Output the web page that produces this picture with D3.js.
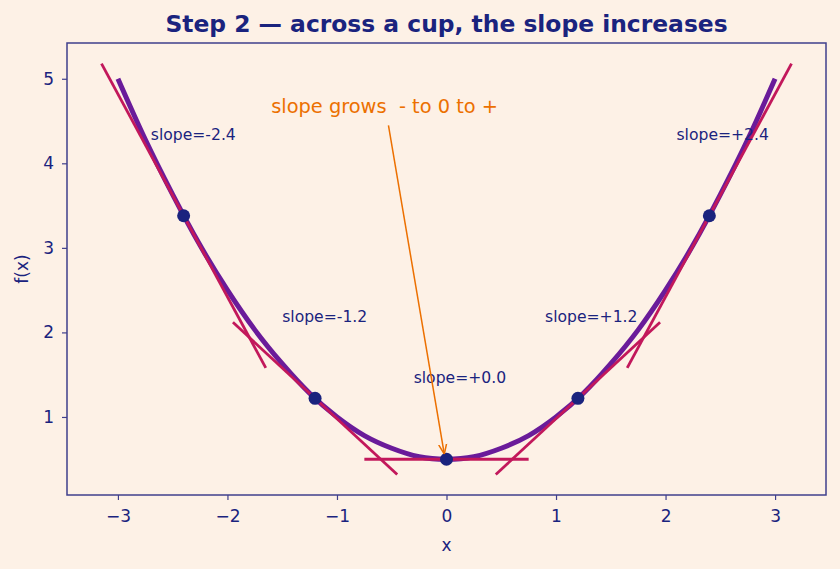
<!DOCTYPE html>
<html>
<head>
<meta charset="utf-8">
<script src="https://cdn.jsdelivr.net/npm/d3@7"></script>
<style>
  html, body { margin: 0; padding: 0; background: #fdf1e6; }
  svg { display: block; font-family: "DejaVu Sans", sans-serif; }
</style>
</head>
<body>
<div id="chart"></div>
<script>
// curve f(x)
const curveX = [-3, -2.75, -2.5, -2.25, -2, -1.75, -1.5, -1.25, -1, -0.75, -0.5, -0.25, 0,
                0.25, 0.5, 0.75, 1, 1.25, 1.5, 1.75, 2, 2.25, 2.5, 2.75, 3];
const curveY = [5, 4.28, 3.63, 3.03, 2.5, 2.03, 1.63, 1.28, 1, 0.78, 0.63, 0.53, 0.5,
                0.53, 0.63, 0.78, 1, 1.28, 1.63, 2.03, 2.5, 3.03, 3.63, 4.28, 5];
// tangent points and their slopes
const pointX = [-2.4, -1.2, 0, 1.2, 2.4];
const pointY = [3.38, 1.22, 0.5, 1.22, 3.38];
const slopes = [-2.4, -1.2, 0, 1.2, 2.4];
const slopeLabels = ["slope=-2.4", "slope=-1.2", "slope=+0.0", "slope=+1.2", "slope=+2.4"];
const halfLen = 0.75;
const xTicks = [-3, -2, -1, 0, 1, 2, 3];
const yTicks = [1, 2, 3, 4, 5];

const width = 840, height = 569;
const margin = { top: 43, right: 14, bottom: 74, left: 67 };
const ink = "#1a237e";
const spine = "#3f3f8c";

const svg = d3.select("#chart").append("svg")
    .attr("width", width)
    .attr("height", height);

svg.append("rect").attr("width", width).attr("height", height).attr("fill", "#fdf1e6");

const x = d3.scaleLinear().domain([-3.465, 3.465]).range([margin.left, width - margin.right]);
const y = d3.scaleLinear().domain([0.077, 5.423]).range([height - margin.bottom, margin.top]);

// curve
const line = d3.line().x(d => x(d[0])).y(d => y(d[1])).curve(d3.curveNatural);
svg.append("path")
    .datum(curveX.map((v, i) => [v, curveY[i]]))
    .attr("d", line)
    .attr("fill", "none")
    .attr("stroke", "#6a1b9a")
    .attr("stroke-width", 5);

// tangent segments
svg.selectAll("line.tan")
    .data(pointX)
    .join("line")
    .attr("class", "tan")
    .attr("x1", (d, i) => x(d - halfLen))
    .attr("y1", (d, i) => y(pointY[i] - slopes[i] * halfLen))
    .attr("x2", (d, i) => x(d + halfLen))
    .attr("y2", (d, i) => y(pointY[i] + slopes[i] * halfLen))
    .attr("stroke", "#c2185b")
    .attr("stroke-width", 2.8);

svg.selectAll("circle.pt")
    .data(pointX)
    .join("circle")
    .attr("class", "pt")
    .attr("cx", d => x(d))
    .attr("cy", (d, i) => y(pointY[i]))
    .attr("r", 6.5)
    .attr("fill", ink);

svg.selectAll("text.slab")
    .data(pointX)
    .join("text")
    .attr("class", "slab")
    .attr("x", d => x(d - 0.3))
    .attr("y", (d, i) => y(pointY[i] + 0.96) + 5)
    .attr("fill", ink)
    .attr("font-size", "15.6px")
    .text((d, i) => slopeLabels[i]);

// annotation arrow
const orange = "#ec7000";
svg.append("defs").append("marker")
    .attr("id", "head")
    .attr("viewBox", "0 0 10 10")
    .attr("refX", 10).attr("refY", 5)
    .attr("markerWidth", 10).attr("markerHeight", 10)
    .attr("markerUnits", "userSpaceOnUse")
    .attr("orient", "auto")
    .append("path")
    .attr("d", "M0,1 L10,5 L0,9")
    .attr("fill", "none")
    .attr("stroke", orange)
    .attr("stroke-width", 1.5);

svg.append("line")
    .attr("x1", x(-0.53)).attr("y1", y(4.45))
    .attr("x2", x(-0.02)).attr("y2", y(0.56))
    .attr("stroke", orange)
    .attr("stroke-width", 1.5)
    .attr("marker-end", "url(#head)");

svg.append("text")
    .attr("x", x(-0.565)).attr("y", y(4.63) + 3)
    .attr("text-anchor", "middle")
    .attr("fill", orange)
    .attr("font-size", "19.4px")
    .attr("xml:space", "preserve")
    .style("white-space", "pre")
    .text("slope grows  - to 0 to +");

// axes
const xAxis = svg.append("g")
    .attr("transform", `translate(0,${height - margin.bottom})`)
    .call(d3.axisBottom(x).tickValues(xTicks).tickSize(5).tickPadding(10)
        .tickFormat(d => d < 0 ? "\u2212" + Math.abs(d) : d));
const yAxis = svg.append("g")
    .attr("transform", `translate(${margin.left},0)`)
    .call(d3.axisLeft(y).tickValues(yTicks).tickSize(5).tickPadding(8).tickFormat(d3.format("d")));

[xAxis, yAxis].forEach(g => {
    g.select(".domain").remove();
    g.selectAll("line").attr("stroke", spine).attr("stroke-width", 1.2);
    g.selectAll("text").attr("fill", ink).attr("font-size", "17px").attr("font-family", "DejaVu Sans");
});

// frame
svg.append("rect")
    .attr("x", margin.left).attr("y", margin.top)
    .attr("width", width - margin.left - margin.right)
    .attr("height", height - margin.top - margin.bottom)
    .attr("fill", "none")
    .attr("stroke", spine)
    .attr("stroke-width", 1.5);

svg.append("text")
    .attr("x", x(0)).attr("y", 551)
    .attr("text-anchor", "middle")
    .attr("fill", ink)
    .attr("font-size", "17px")
    .text("x");

svg.append("text")
    .attr("transform", `translate(28,${(margin.top + height - margin.bottom) / 2}) rotate(-90)`)
    .attr("text-anchor", "middle")
    .attr("fill", ink)
    .attr("font-size", "17px")
    .text("f(x)");

svg.append("text")
    .attr("x", (margin.left + width - margin.right) / 2).attr("y", 32)
    .attr("text-anchor", "middle")
    .attr("fill", ink)
    .attr("font-size", "23.4px")
    .attr("font-weight", "bold")
    .text("Step 2 \u2014 across a cup, the slope increases");
</script>
</body>
</html>
